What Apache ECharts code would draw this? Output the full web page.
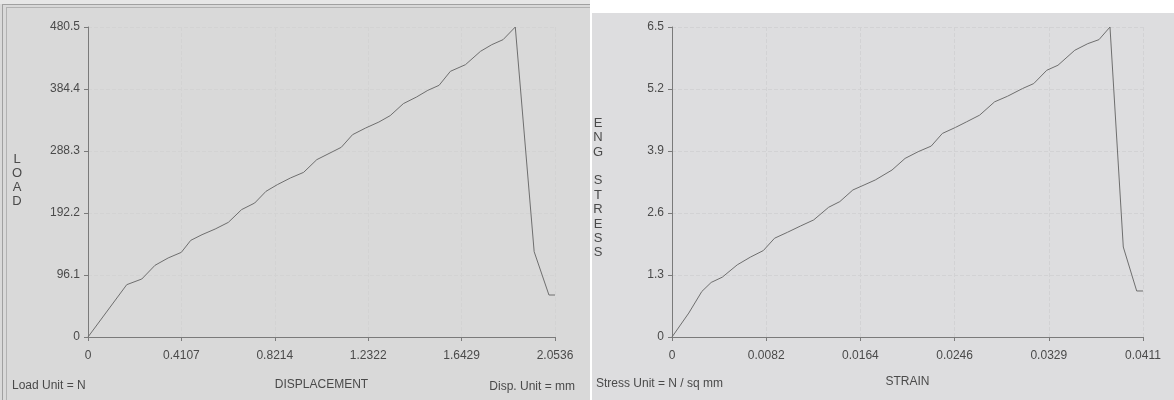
<!DOCTYPE html>
<html>
<head>
<meta charset="utf-8">
<script src="https://cdn.jsdelivr.net/npm/echarts@6/dist/echarts.min.js"></script>
<style>
html,body{margin:0;padding:0;background:#fff;}
#chart{width:1174px;height:400px;}
</style>
</head>
<body>
<div id="chart"></div>
<script>
// ---- Data ----
const displacement = [0,0.1704,0.2366,0.2946,0.3525,0.4104,0.4518,0.5014,0.5593,0.6172,0.6752,0.7331,0.7827,0.8324,0.8903,0.9482,1.0061,1.0641,1.1137,1.1633,1.2212,1.2791,1.3288,1.3867,1.4446,1.4943,1.5439,1.5936,1.6598,1.7260,1.7756,1.8253,1.8790,1.9620,2.0270,2.0536];
const load = [0,81.1,89.9,111.1,122.5,131.2,149.8,158.6,167.4,177.7,197.4,207.7,225.8,236.1,246.5,255.2,274.9,285.2,294.0,313.6,324.0,333.2,343.1,361.7,372.0,382.3,390.1,411.8,422.1,442.8,453.1,460.9,480.5,132.2,65.1,65.1];

const strain = [0,0.001464,0.002603,0.003417,0.004393,0.005695,0.006834,0.007973,0.008949,0.010088,0.011227,0.012366,0.013668,0.014644,0.015783,0.016759,0.017735,0.019199,0.020339,0.021478,0.022617,0.023593,0.024732,0.025708,0.026847,0.028149,0.029288,0.030590,0.031566,0.032705,0.033681,0.035145,0.036284,0.037260,0.038220,0.039380,0.040550,0.041100];
const engStress = [0,0.502,0.955,1.144,1.255,1.513,1.674,1.813,2.071,2.197,2.329,2.455,2.720,2.839,3.083,3.187,3.292,3.501,3.745,3.885,4.003,4.268,4.394,4.512,4.652,4.931,5.049,5.210,5.314,5.593,5.698,6.012,6.151,6.235,6.5,1.887,0.965,0.965];

const loadTicks = ['0','96.1','192.2','288.3','384.4','480.5'];
const dispTicks = ['0','0.4107','0.8214','1.2322','1.6429','2.0536'];
const stressTicks = ['0','1.3','2.6','3.9','5.2','6.5'];
const strainTicks = ['0','0.0082','0.0164','0.0246','0.0329','0.0411'];

const loadMax = 480.5, dispMax = 2.0536, stressMax = 6.5, strainMax = 0.0411;

// ---- Chart ----
const FONT = "'Liberation Sans', Arial, sans-serif";
const TXT = '#4a4a4a';
function fmt(labels, step){
  return function(v){ const i = Math.round(v/step); return labels[i] !== undefined ? labels[i] : ''; };
}
function xAx(gi, max, labels, name, gap, gridColor){
  return {
    type:'value', gridIndex:gi, min:0, max:max, interval:max/5,
    name:name, nameLocation:'middle', nameGap:gap,
    nameTextStyle:{color:TXT, fontFamily:FONT, fontSize:12},
    axisLine:{show:true, lineStyle:{color:'#7a7a7a', width:1}},
    axisTick:{show:true, length:4, lineStyle:{color:'#7a7a7a'}},
    axisLabel:{color:TXT, fontFamily:FONT, fontSize:12, margin:13, formatter:fmt(labels, max/5), showMaxLabel:true, showMinLabel:true},
    splitLine:{show:true, lineStyle:{color:gridColor, type:'dashed', width:1}}
  };
}
function yAx(gi, max, labels, gridColor){
  return {
    type:'value', gridIndex:gi, min:0, max:max, interval:max/5,
    axisLine:{show:true, lineStyle:{color:'#7a7a7a', width:1}},
    axisTick:{show:true, length:4, lineStyle:{color:'#7a7a7a'}},
    axisLabel:{color:TXT, fontFamily:FONT, fontSize:12, margin:8, formatter:fmt(labels, max/5), showMaxLabel:true, showMinLabel:true},
    splitLine:{show:true, lineStyle:{color:gridColor, type:'dashed', width:1}}
  };
}
const chart = echarts.init(document.getElementById('chart'), null, {renderer:'canvas'});
chart.setOption({
  backgroundColor:'#ffffff',
  animation:false,
  grid:[
    {left:88, top:27, width:467, height:310},
    {left:672, top:27, width:471, height:310}
  ],
  xAxis:[
    xAx(0, dispMax, dispTicks, 'DISPLACEMENT', 42, '#d3d3d3'),
    xAx(1, strainMax, strainTicks, 'STRAIN', 39, '#d2d2d4')
  ],
  yAxis:[
    yAx(0, loadMax, loadTicks, '#d3d3d3'),
    yAx(1, stressMax, stressTicks, '#d2d2d4')
  ],
  graphic:[
    {type:'rect', z:-10, silent:true, shape:{x:0,y:0,width:590,height:400}, style:{fill:'#d9d9d9'}},
    {type:'rect', z:-9, silent:true, shape:{x:0,y:0,width:590,height:4}, style:{fill:'#e6e6e6'}},
    {type:'line', z:-8, silent:true, shape:{x1:2.5,y1:4,x2:2.5,y2:400}, style:{stroke:'#a0a0a0',lineWidth:1}},
    {type:'line', z:-8, silent:true, shape:{x1:6.5,y1:7,x2:6.5,y2:400}, style:{stroke:'#b2b2b2',lineWidth:1}},
    {type:'line', z:-8, silent:true, shape:{x1:2,y1:4.5,x2:590,y2:4.5}, style:{stroke:'#a0a0a0',lineWidth:1}},
    {type:'line', z:-8, silent:true, shape:{x1:6,y1:7.5,x2:590,y2:7.5}, style:{stroke:'#b2b2b2',lineWidth:1}},
    {type:'rect', z:-10, silent:true, shape:{x:592,y:13,width:582,height:387}, style:{fill:'#dddddf'}},
    {type:'text', z:5, left:12, top:380, style:{text:'Load Unit = N', fill:TXT, font:'12px '+FONT}},
    {type:'text', z:5, right:1174-575, top:381, style:{text:'Disp. Unit = mm', fill:TXT, font:'12px '+FONT, textAlign:'right'}},
    {type:'text', z:5, left:596, top:378, style:{text:'Stress Unit = N / sq mm', fill:TXT, font:'12px '+FONT}},
    {type:'text', z:5, left:12, top:152, style:{text:'L\nO\nA\nD', fill:TXT, font:'13px '+FONT, lineHeight:14, textAlign:'center'}},
    {type:'text', z:5, left:593, top:116, style:{text:'E\nN\nG\n \nS\nT\nR\nE\nS\nS', fill:TXT, font:'13px '+FONT, lineHeight:14.4, textAlign:'center'}}
  ],
  series:[
    {type:'line', xAxisIndex:0, yAxisIndex:0, showSymbol:false, symbol:'none',
     lineStyle:{color:'#6e6e6e', width:1}, data:displacement.map((x,i)=>[x, load[i]])},
    {type:'line', xAxisIndex:1, yAxisIndex:1, showSymbol:false, symbol:'none',
     lineStyle:{color:'#6e6e6e', width:1}, data:strain.map((x,i)=>[x, engStress[i]])}
  ]
});
</script>
</body>
</html>
